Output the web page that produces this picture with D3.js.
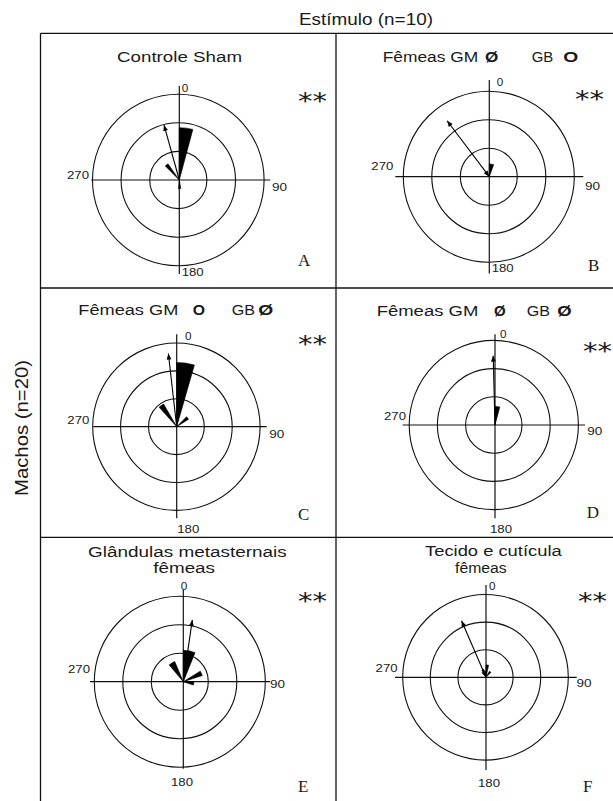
<!DOCTYPE html>
<html>
<head>
<meta charset="utf-8">
<script src="https://cdn.jsdelivr.net/npm/d3@7/dist/d3.min.js"></script>
<style>
  html, body { margin: 0; padding: 0; background: #fff; }
  svg { display: block; }
  text { fill: #1a1a1a; }
</style>
</head>
<body>
<script>
// ---------------- DATA ----------------
const panelIds = ["A", "B", "C", "D", "E", "F"];
const headerText = "Estímulo (n=10)";
const sideText = "Machos (n=20)";
const titleA = [["Controle Sham"]];
const titleB = [["Fêmeas GM", "Ø", "GB", "O"]];
const titleC = [["Fêmeas GM", "O", "GB", "Ø"]];
const titleD = [["Fêmeas GM", "Ø", "GB", "Ø"]];
const titleE = [["Glândulas  metasternais"], ["fêmeas"]];
const titleF = [["Tecido e cutícula"], ["fêmeas"]];
const tickLabels = ["0", "90", "180", "270"];
const ringValues = [1, 2, 3];
// wedges: [start angle (deg, clockwise from 0), end angle, radius in ring units]
const wedgesA = [[0, 15, 1.83], [315, 325, 0.69], [170, 185, 0.3]];
const wedgesB = [[0, 20, 0.45]];
const wedgesC = [[0, 16, 2.3], [318, 330, 0.94], [45, 58, 0.5]];
const wedgesD = [[0, 15, 0.66]];
const wedgesE = [[0, 22, 1.1], [320, 337, 0.77], [58, 72, 0.7], [90, 108, 0.37]];
const wedgesF = [[0, 12, 0.45], [330, 345, 0.3], [30, 45, 0.25]];
// mean vector per panel
const meanAngles = [344.5, 323, 353.5, 358.5, 8.3, 336.6];
const meanLengths = [2.0, 2.46, 2.64, 2.46, 2.19, 2.23];
const doubleHeaded = [false, true, false, false, false, true];
const significance = ["**", "**", "**", "**", "**", "**"];

// ---------------- LAYOUT ----------------
const W = 613, H = 801;
const layout = [
  { cx: 179.3, cy: 180, unit: 28.6, ringDx: -1, ext: [88, 91, 94, 94],
    lbl: { "0": [2.4, -88], "270": [-90.3, -1], "90": [92.7, 10.7], "180": [2.4, 95.7] },
    star: [298, 96], letter: [298, 265.7],
    title: [{ y: 62, segs: [[117, 125]] }] },
  { cx: 489.3, cy: 176.7, unit: 28.5, ringDx: -0.5, ext: [94, 94, 96.7, 96.7],
    lbl: { "0": [7.4, -90.7], "270": [-96, -6.7], "90": [95.7, 13.3], "180": [2.4, 95] },
    star: [575, 94], letter: [588, 270.7],
    title: [{ y: 62, segs: [[382.7, 95.6], [485, 13.3], [531.7, 21.6], [563.3, 15]] }] },
  { cx: 176.7, cy: 426.7, unit: 27.9, ringDx: -0.3, ext: [83.4, 90, 92.4, 91.6],
    lbl: { "0": [8.3, -86.7], "270": [-87.4, -2.4], "90": [92.6, 11.6], "180": [0.6, 106.6] },
    star: [298, 339], letter: [298, 520],
    title: [{ y: 315, segs: [[78.3, 100], [192.7, 12.3], [231.7, 23.3], [258.3, 15]] }] },
  { cx: 495, cy: 425, unit: 28.2, ringDx: -1.2, ext: [92.3, 90, 90.7, 93.3],
    lbl: { "0": [5, -86.7], "270": [-89, -5], "90": [92.3, 10], "180": [-5, 108.3] },
    star: [583, 346], letter: [586.7, 518.3],
    title: [{ y: 315.5, segs: [[376.7, 101.6], [494, 11.7], [526.7, 23.3], [557.3, 14.4]] }] },
  { cx: 183.3, cy: 681.7, unit: 28.5, ringDx: -3.5, ext: [93.3, 86.7, 91.7, 87],
    lbl: { "0": [-2.6, -91.7], "270": [-93.3, -8.4], "90": [86.7, 6], "180": [-12.3, 104] },
    star: [298, 596], letter: [298, 791.7],
    title: [{ y: 556.5, segs: [[88, 198.7]] }, { y: 573, segs: [[153.3, 61.7]] }] },
  { cx: 486, cy: 677.3, unit: 27.6, ringDx: -0.5, ext: [91, 90.7, 92.3, 92.7],
    lbl: { "0": [3, -87.3], "270": [-88.4, -5.6], "90": [90.6, 10], "180": [-8, 109.4] },
    star: [578, 596], letter: [583, 791.7],
    title: [{ y: 555.5, segs: [[425, 136.7]] }, { y: 573, segs: [[455, 51.7]] }] }
];
const titles = [titleA, titleB, titleC, titleD, titleE, titleF];
const wedges = [wedgesA, wedgesB, wedgesC, wedgesD, wedgesE, wedgesF];
const tickWidths = { "0": 6.5, "90": 15, "180": 22, "270": 22 };

const SANS = "'Liberation Sans', Arial, Helvetica, sans-serif";
const SERIF = "'Liberation Serif', 'Times New Roman', serif";

const svg = d3.select("body").append("svg").attr("width", W).attr("height", H);
svg.append("rect").attr("width", W).attr("height", H).attr("fill", "#fff");

// ---------------- FRAME ----------------
const gridX = [40.5, 336], gridY = [33.3, 288, 537.3];
const frame = svg.append("g").attr("stroke", "#111").attr("stroke-width", 1.3).attr("fill", "none");
gridX.forEach(x => frame.append("line").attr("x1", x).attr("x2", x).attr("y1", gridY[0]).attr("y2", H));
gridY.forEach(y => frame.append("line").attr("x1", gridX[0]).attr("x2", W).attr("y1", y).attr("y2", y));

svg.append("text").attr("x", 299).attr("y", 25)
  .attr("font-family", SANS).attr("font-size", 17)
  .attr("textLength", 134).attr("lengthAdjust", "spacingAndGlyphs")
  .text(headerText);

svg.append("text").attr("transform", "translate(28,428) rotate(-90)")
  .attr("text-anchor", "middle")
  .attr("font-family", SANS).attr("font-size", 18)
  .attr("textLength", 136).attr("lengthAdjust", "spacingAndGlyphs")
  .text(sideText);

// ---------------- PANELS ----------------
const toXY = (deg, r) => [r * Math.sin(deg * Math.PI / 180), -r * Math.cos(deg * Math.PI / 180)];

panelIds.forEach((id, i) => {
  const L = layout[i];
  const rScale = d3.scaleLinear().domain([0, 3]).range([0, 3 * L.unit]);
  const g = svg.append("g").attr("transform", `translate(${L.cx},${L.cy})`);

  // rings
  g.append("g").selectAll("circle").data(ringValues).join("circle")
    .attr("cx", L.ringDx).attr("cy", 0).attr("r", d => rScale(d))
    .attr("fill", "none").attr("stroke", "#111").attr("stroke-width", 1.1);

  // axes
  const ax = g.append("g").attr("stroke", "#111").attr("stroke-width", 1.2);
  ax.append("line").attr("x1", -L.ext[0]).attr("x2", L.ext[1]).attr("y1", 0).attr("y2", 0);
  ax.append("line").attr("x1", 0).attr("x2", 0).attr("y1", -L.ext[2]).attr("y2", L.ext[3]);

  // tick labels
  g.append("g").selectAll("text").data(tickLabels).join("text")
    .attr("x", d => L.lbl[d][0]).attr("y", d => L.lbl[d][1])
    .attr("text-anchor", d => d === "270" ? "end" : "start")
    .attr("font-family", SANS).attr("font-size", 10)
    .attr("textLength", d => tickWidths[d]).attr("lengthAdjust", "spacingAndGlyphs")
    .text(d => d);

  // wedges
  const arc = d3.arc().innerRadius(0)
    .outerRadius(d => rScale(d[2]))
    .startAngle(d => d[0] * Math.PI / 180)
    .endAngle(d => (d[1] < d[0] ? d[1] + 360 : d[1]) * Math.PI / 180);
  g.append("g").selectAll("path").data(wedges[i]).join("path")
    .attr("d", arc).attr("fill", "#000").attr("stroke", "#000").attr("stroke-width", 0.6);

  // mean vector
  const ang = meanAngles[i];
  const len = rScale(meanLengths[i]);
  const [tx, ty] = toXY(ang, len);
  g.append("line").attr("x1", 0).attr("y1", 0).attr("x2", tx).attr("y2", ty)
    .attr("stroke", "#000").attr("stroke-width", 1.1);
  const head = (r, dirDeg) => {
    const [px, py] = toXY(ang, r);
    const hl = 6, hw = 2.4;
    const [bx, by] = toXY(dirDeg, -hl);
    const [nx, ny] = toXY(dirDeg + 90, hw);
    return `M${px},${py}L${px + bx + nx},${py + by + ny}L${px + bx - nx},${py + by - ny}Z`;
  };
  g.append("path").attr("d", head(len, ang)).attr("fill", "#000");
  if (doubleHeaded[i]) g.append("path").attr("d", head(0, ang + 180)).attr("fill", "#000");

  // titles
  titles[i].forEach((line, li) => {
    const tl = L.title[li];
    line.forEach((txt, si) => {
      const seg = tl.segs[si];
      const bold = txt === "Ø" || txt === "O";
      svg.append("text").attr("x", seg[0]).attr("y", tl.y)
        .attr("font-family", SANS).attr("font-size", bold ? 15 : 15.5)
        .attr("font-weight", bold ? "bold" : "normal")
        .attr("textLength", seg[1]).attr("lengthAdjust", "spacingAndGlyphs")
        .text(txt);
    });
  });

  // significance
  svg.append("text").attr("x", L.star[0]).attr("y", L.star[1] + 13)
    .attr("font-family", "'DejaVu Sans', sans-serif").attr("font-size", 23)
    .attr("fill", "#333")
    .attr("textLength", 29).attr("lengthAdjust", "spacingAndGlyphs")
    .text(significance[i]);

  // panel letter
  svg.append("text").attr("x", L.letter[0]).attr("y", L.letter[1])
    .attr("font-family", SERIF).attr("font-size", 17)
    .text(id);
});
</script>
</body>
</html>
